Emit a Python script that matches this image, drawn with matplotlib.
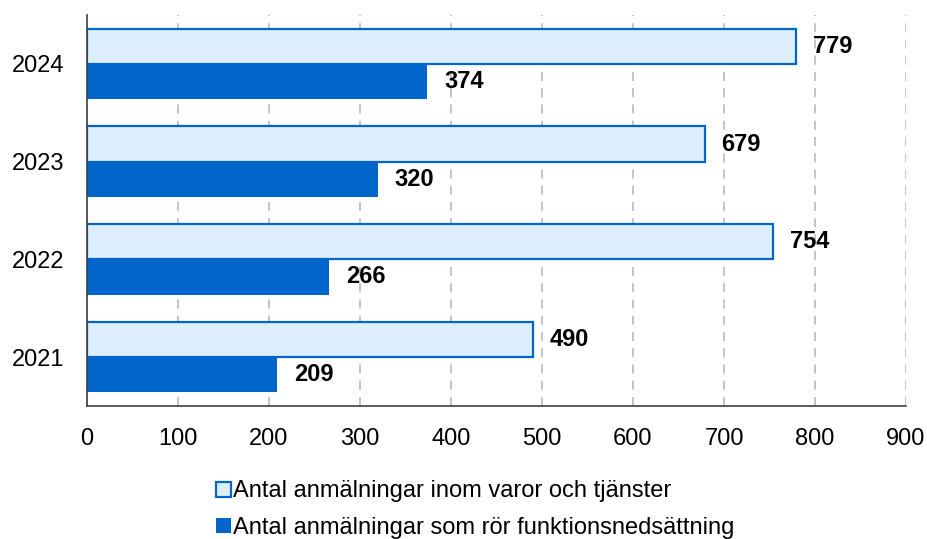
import matplotlib.pyplot as plt
import numpy as np

plt.rcParams['font.family'] = ['Liberation Sans', 'DejaVu Sans']

years = ['2021', '2022', '2023', '2024']
varor_tjanster = [490, 754, 679, 779]
funktionsnedsattning = [209, 266, 320, 374]

light_fill = '#DDEEFD'
blue = '#0066CC'

fig = plt.figure(figsize=(9.27, 5.39), dpi=100)
ax = fig.add_axes([87 / 927, 1 - 406 / 539, (906 - 87) / 927, (406 - 15) / 539])

y = np.arange(len(years))
h = 0.36
bars1 = ax.barh(y + h / 2, varor_tjanster, height=h, color=light_fill,
                edgecolor=blue, linewidth=1.6, label='Antal anmälningar inom varor och tjänster')
bars2 = ax.barh(y - h / 2, funktionsnedsattning, height=h, color=blue,
                edgecolor=blue, linewidth=0, label='Antal anmälningar som rör funktionsnedsättning')

for bars, vals in [(bars1, varor_tjanster), (bars2, funktionsnedsattning)]:
    for b, v in zip(bars, vals):
        ax.annotate(str(v), (v, b.get_y() + b.get_height() / 2), xytext=(12, 0),
                    textcoords='offset points', va='center', ha='left',
                    fontsize=17, fontweight='bold')

ax.set_xlim(0, 900)
ax.set_ylim(-0.5, 3.5)
ax.set_xticks(range(0, 901, 100))
ax.set_yticks(y)
ax.set_yticklabels(years)
ax.tick_params(length=0, labelsize=17)
ax.tick_params(axis='y', pad=16)
ax.tick_params(axis='x', pad=16)

ax.grid(axis='x', color='#BFBFBF', linestyle=(0, (5, 4)), linewidth=1.3)
ax.set_axisbelow(True)
for s in ['top', 'right']:
    ax.spines[s].set_visible(False)
for s in ['left', 'bottom']:
    ax.spines[s].set_color('#404040')
    ax.spines[s].set_linewidth(1.2)

fig.legend(handles=[bars1, bars2], loc='upper left', bbox_to_anchor=(207 / 927, 1 - 471 / 539),
           frameon=False, fontsize=17, handlelength=0.6, handleheight=0.6,
           handletextpad=0.1, labelspacing=0.62, borderaxespad=0)

fig.savefig('out.png', dpi=100)
